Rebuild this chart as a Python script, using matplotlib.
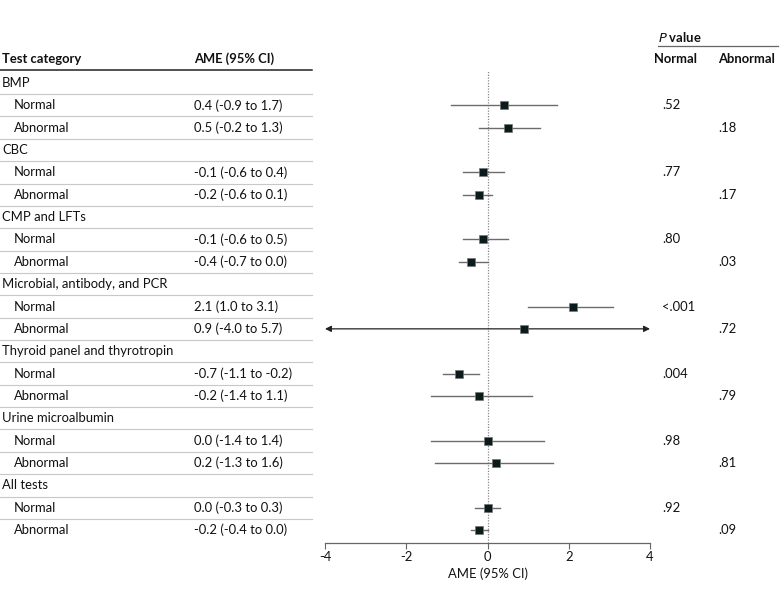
import matplotlib
matplotlib.use("Agg")
import matplotlib.pyplot as plt
import matplotlib.transforms as mtransforms

# ── Data ──────────────────────────────────────────────────────────────────────
categories = [
    "BMP",
    "CBC",
    "CMP and LFTs",
    "Microbial, antibody, and PCR",
    "Thyroid panel and thyrotropin",
    "Urine microalbumin",
    "All tests",
]
subgroups = ["Normal", "Abnormal"]

ame = [0.4, 0.5, -0.1, -0.2, -0.1, -0.4, 2.1, 0.9, -0.7, -0.2, 0.0, 0.2, 0.0, -0.2]
ci_lo = [-0.9, -0.2, -0.6, -0.6, -0.6, -0.7, 1.0, -4.0, -1.1, -1.4, -1.4, -1.3, -0.3, -0.4]
ci_hi = [1.7, 1.3, 0.4, 0.1, 0.5, 0.0, 3.1, 5.7, -0.2, 1.1, 1.4, 1.6, 0.3, 0.0]
p_values = [".52", ".18", ".77", ".17", ".80", ".03", "<.001", ".72",
            ".004", ".79", ".98", ".81", ".92", ".09"]

x_ticks = [-4, -2, 0, 2, 4]

# ── Style ─────────────────────────────────────────────────────────────────────
FONT = ["Lato", "DejaVu Sans"]
FS = 9.4
TEXT_COLOR = "#111111"
RULE_COLOR = "#c8c8c8"
CI_COLOR = "#6b6b6b"
BOX_COLOR = "#0b1a1a"
AXIS_COLOR = "#666666"

plt.rcParams["font.family"] = FONT
plt.rcParams["axes.unicode_minus"] = False

W, H = 780, 596
fig = plt.figure(figsize=(W / 100, H / 100), dpi=100)
fig.patch.set_facecolor("white")

ax = fig.add_axes([325 / W, 53 / H, 325 / W, (543 - 70) / H])
n_rows = len(categories) * 3
ax.set_ylim(n_rows - 0.42, -0.58)
ax.set_xlim(x_ticks[0], x_ticks[-1])

trans = mtransforms.blended_transform_factory(fig.transFigure, ax.transData)

X_CAT = 2 / W
X_SUB = 14 / W
X_AME = 194 / W
X_PN = 662 / W
X_PA = 718 / W
X_RULE_END = 312 / W

# header
ax.text(X_CAT, -1.07, "Test category", transform=trans, fontsize=FS,
        fontweight="bold", va="center", ha="left", color=TEXT_COLOR, clip_on=False)
ax.text(X_AME, -1.07, "AME (95% CI)", transform=trans, fontsize=FS,
        fontweight="bold", va="center", ha="left", color=TEXT_COLOR, clip_on=False)
ax.text(658 / W, -2.06, "$\\bf{\\it{P}}$ value", transform=trans, fontsize=FS,
        fontweight="bold", va="center", ha="left", color=TEXT_COLOR, clip_on=False)
ax.plot([658 / W, 778 / W], [-1.66, -1.66], transform=trans, color=AXIS_COLOR,
        lw=0.9, clip_on=False)
ax.text(654 / W, -1.07, "Normal", transform=trans, fontsize=FS,
        fontweight="bold", va="center", ha="left", color=TEXT_COLOR, clip_on=False)
ax.text(X_PA, -1.07, "Abnormal", transform=trans, fontsize=FS,
        fontweight="bold", va="center", ha="left", color=TEXT_COLOR, clip_on=False)
ax.plot([0, X_RULE_END], [-0.58, -0.58], transform=trans, color="#222222",
        lw=1.1, clip_on=False)

# rows
row = 0
k = 0
for cat in categories:
    ax.text(X_CAT, row, cat, transform=trans, fontsize=FS, va="center",
            ha="left", color=TEXT_COLOR, clip_on=False)
    ax.plot([0, X_RULE_END], [row + 0.5, row + 0.5], transform=trans,
            color=RULE_COLOR, lw=0.8, clip_on=False)
    row += 1
    for j, sub in enumerate(subgroups):
        ax.text(X_SUB, row, sub, transform=trans, fontsize=FS, va="center",
                ha="left", color=TEXT_COLOR, clip_on=False)
        label = f"{ame[k]:.1f} ({ci_lo[k]:.1f} to {ci_hi[k]:.1f})"
        ax.text(X_AME, row, label, transform=trans, fontsize=FS, va="center",
                ha="left", color=TEXT_COLOR, clip_on=False)
        ax.text(X_PN if j == 0 else X_PA, row, p_values[k], transform=trans,
                fontsize=FS, va="center", ha="left", color=TEXT_COLOR, clip_on=False)
        if row < n_rows - 1:
            ax.plot([0, X_RULE_END], [row + 0.5, row + 0.5], transform=trans,
                    color=RULE_COLOR, lw=0.8, clip_on=False)

        lo, hi = ci_lo[k], ci_hi[k]
        xmin, xmax = x_ticks[0], x_ticks[-1]
        if lo < xmin or hi > xmax:
            ax.annotate("", xy=(max(lo, xmin), row), xytext=(min(hi, xmax), row),
                        arrowprops=dict(arrowstyle="<|-|>", color="#222222",
                                        lw=0.9, mutation_scale=9,
                                        shrinkA=0, shrinkB=0))
        else:
            ax.plot([lo, hi], [row, row], color=CI_COLOR, lw=1.0, zorder=2)
        ax.plot(ame[k], row, marker="s", markersize=5.3, color=BOX_COLOR,
                markeredgecolor="#777777", markeredgewidth=0.5, zorder=4)
        row += 1
        k += 1

# null line
ax.axvline(0, color="#888888", lw=0.9, ls=(0, (1, 1.2)), zorder=1)

# axes styling
for s in ("top", "right", "left"):
    ax.spines[s].set_visible(False)
ax.spines["bottom"].set_color(AXIS_COLOR)
ax.spines["bottom"].set_linewidth(0.9)
ax.set_yticks([])
ax.set_xticks(x_ticks)
ax.set_xticklabels([str(t) for t in x_ticks])
ax.tick_params(axis="x", direction="out", length=4, width=0.8, colors=AXIS_COLOR,
               labelcolor=TEXT_COLOR, labelsize=FS, pad=2)
ax.set_xlabel("AME (95% CI)", fontsize=FS, color=TEXT_COLOR, labelpad=3)
ax.patch.set_alpha(0)

fig.savefig("out.png", dpi=100, facecolor="white")
